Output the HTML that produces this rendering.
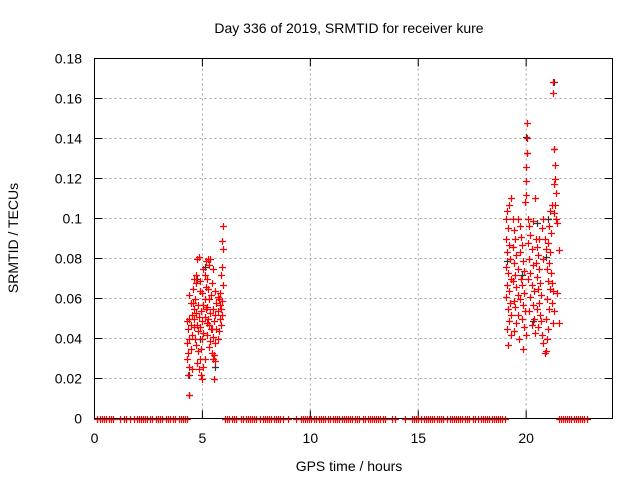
<!DOCTYPE html>
<html><head><meta charset="utf-8"><style>
body{margin:0;background:#fff;}
svg{display:block;font-family:"Liberation Sans",sans-serif;}
</style></head><body>
<svg id="chart" width="640" height="480" viewBox="0 0 640 480">
<rect width="640" height="480" fill="#fff"/>
<text x="349" y="33" font-size="14" text-anchor="middle" fill="#000">Day 336 of 2019, SRMTID for receiver kure</text>
<text x="349" y="471" font-size="14" text-anchor="middle" fill="#000">GPS time / hours</text>
<text x="18" y="238" font-size="14" text-anchor="middle" fill="#000" transform="rotate(-90 18 238)">SRMTID / TECUs</text>
<g id="grid"></g><g id="ticks"></g><g id="marks"></g>
<rect x="94.5" y="58.5" width="518" height="360" fill="none" stroke="#000" stroke-width="1"/>
</svg>
<script>
const xTicks=[0,5,10,15,20];
const yTicks=[0,0.02,0.04,0.06,0.08,0.1,0.12,0.14,0.16,0.18];
const yTickLabels=["0","0.02","0.04","0.06","0.08","0.1","0.12","0.14","0.16","0.18"];
const zeroHours=[0.1,0.25,0.35,0.45,0.55,0.65,0.75,0.85,1.2,1.35,1.45,1.65,1.85,1.95,2.05,2.15,2.25,2.35,2.45,2.55,2.65,2.85,2.95,3.05,3.15,3.3,3.4,3.5,3.65,3.75,3.9,4.0,4.1,4.2,4.3,
6.05,6.15,6.25,6.35,6.45,6.55,6.8,6.9,7.0,7.1,7.2,7.3,7.4,7.5,7.65,7.8,7.9,8.0,8.1,8.2,8.3,8.4,8.5,8.6,8.75,8.95,
9.35,9.55,9.65,9.75,9.85,9.95,10.05,10.15,10.25,10.4,10.5,10.6,10.7,10.8,10.9,11.05,11.15,11.25,11.35,11.45,11.55,11.65,11.75,11.85,11.95,12.05,12.15,12.25,12.45,12.55,12.65,12.75,12.85,12.95,13.05,13.15,13.25,13.35,13.45,13.8,13.9,14.4,
14.7,14.8,14.9,15.0,15.15,15.25,15.35,15.45,15.55,15.65,15.75,15.85,15.95,16.05,16.15,16.35,16.45,16.55,16.65,16.75,16.85,16.95,17.05,17.15,17.25,17.35,17.55,17.65,17.75,17.9,18.0,18.1,18.2,18.3,18.4,18.5,18.6,18.7,18.8,18.9,19.0,
21.5,21.6,21.7,21.8,21.9,22.0,22.1,22.2,22.3,22.4,22.5,22.6,22.7,22.8];
const redPts=[[4.4,.012],[4.35,.022],[4.4,.026],[4.5,.025],[4.3,.03],[4.35,.033],[4.45,.035],[4.3,.038],[4.4,.04],[4.5,.042],[4.35,.045],[4.45,.047],[4.3,.049],[4.4,.05],[4.5,.052],[4.6,.055],[4.45,.058],[4.4,.062],[4.55,.065],[4.6,.07],[4.7,.072],[4.75,.08],[4.85,.081],[4.7,.068],[4.65,.06],[4.8,.057],[4.7,.053],[4.6,.05],[4.75,.047],[4.8,.044],[4.65,.04],[4.7,.037],[4.8,.034],[4.9,.03],[4.85,.025],[4.95,.022],[4.75,.028],[5.0,.02],[5.05,.026],[5.1,.03],[4.95,.035],[5.0,.04],[5.05,.043],[4.9,.046],[5.0,.049],[5.1,.051],[4.95,.054],[5.05,.057],[5.1,.06],[5.0,.063],[5.15,.066],[4.9,.069],[5.1,.072],[5.05,.075],[5.15,.079],[5.25,.08],[5.3,.077],[5.2,.07],[5.25,.065],[5.3,.06],[5.2,.056],[5.35,.053],[5.25,.05],[5.3,.047],[5.4,.045],[5.2,.042],[5.35,.039],[5.3,.036],[5.45,.033],[5.5,.03],[5.55,.032],[5.6,.038],[5.5,.041],[5.45,.045],[5.55,.049],[5.6,.052],[5.5,.055],[5.65,.058],[5.7,.061],[5.6,.064],[5.75,.06],[5.8,.057],[5.7,.054],[5.8,.05],[5.85,.047],[5.75,.044],[5.9,.052],[5.85,.055],[5.9,.059],[5.8,.063],[5.95,.067],[5.85,.072],[5.9,.076],[5.95,.085],[5.9,.089],[5.95,.096],[5.55,.02],[5.6,.029],[5.4,.062],[5.45,.068],[5.5,.075],[5.35,.08],[5.15,.055],[5.2,.048],[4.55,.058],[4.6,.046],[4.85,.051],[4.9,.064],[5.65,.045],[5.7,.04],
[20.05,.148],[20.05,.14],[20.05,.133],[20.0,.126],[21.25,.168],[21.25,.163],[21.3,.135],[21.35,.127],[21.35,.12],[21.3,.117],[21.4,.113],[21.35,.107],[21.3,.103],[21.4,.1],[21.45,.098],[21.5,.084],[21.45,.063],[21.5,.048],[20.0,.119],[20.0,.112],[19.95,.108],[19.05,.1],[19.1,.104],[19.2,.107],[19.15,.095],[19.05,.09],[19.2,.087],[19.1,.083],[19.25,.08],[19.05,.076],[19.15,.073],[19.3,.07],[19.1,.067],[19.2,.064],[19.05,.061],[19.25,.058],[19.15,.055],[19.3,.052],[19.2,.049],[19.1,.045],[19.3,.042],[19.15,.037],[19.4,.1],[19.45,.094],[19.5,.09],[19.4,.086],[19.55,.082],[19.45,.078],[19.6,.075],[19.5,.072],[19.4,.069],[19.55,.066],[19.6,.062],[19.45,.059],[19.5,.056],[19.6,.052],[19.55,.048],[19.45,.044],[19.65,.04],[19.7,.096],[19.75,.091],[19.8,.087],[19.7,.083],[19.85,.079],[19.9,.074],[19.75,.07],[19.8,.067],[19.9,.063],[19.7,.06],[19.85,.057],[19.95,.054],[19.8,.05],[19.9,.046],[19.85,.035],[20.0,.042],[20.1,.1],[20.15,.096],[20.2,.092],[20.1,.088],[20.25,.085],[20.15,.08],[20.3,.077],[20.2,.073],[20.1,.07],[20.25,.067],[20.35,.064],[20.2,.061],[20.3,.057],[20.15,.054],[20.35,.05],[20.25,.047],[20.4,.043],[20.45,.09],[20.5,.086],[20.55,.082],[20.45,.078],[20.6,.075],[20.5,.071],[20.65,.068],[20.55,.065],[20.7,.062],[20.6,.058],[20.5,.055],[20.65,.052],[20.7,.049],[20.55,.046],[20.75,.042],[20.8,.038],[20.9,.034],[20.85,.033],[20.95,.04],[21.0,.045],[20.9,.05],[21.05,.055],[20.95,.06],[21.1,.065],[21.0,.069],[21.15,.073],[21.05,.078],[21.1,.083],[21.0,.088],[21.15,.093],[21.05,.096],[21.1,.104],[21.2,.107],[20.8,.1],[20.75,.095],[20.85,.09],[20.9,.085],[20.8,.08],[20.95,.075],[21.2,.068],[21.25,.064],[21.2,.058],[21.3,.054],[21.25,.048],[20.4,.11],[20.3,.099],[19.3,.11],[19.6,.1],[20.6,.09]];
const blackPts=[[4.4,.012],[4.4,.022],[5.1,.076],[4.75,.07],[5.6,.026],[4.9,.04],[21.3,.168],[21.3,.135],[20.05,.133],[20.0,.141],[19.1,.079],[20.9,.081],[20.5,.098],[19.8,.072],[21.0,.1],[20.3,.049]];
const X0=94.5,X1=612.5,Y0=418.5,Y1=58.5,XMAX=24,YMAX=0.18;
function sx(h){return X0+(X1-X0)*h/XMAX;}
function sy(v){return Y0-(Y0-Y1)*v/YMAX;}
const NS="http://www.w3.org/2000/svg";
function mk(tag,attrs,parent){const e=document.createElementNS(NS,tag);for(const k in attrs)e.setAttribute(k,attrs[k]);parent.appendChild(e);return e;}
const grid=document.getElementById('grid'),ticks=document.getElementById('ticks'),marks=document.getElementById('marks');
xTicks.forEach(t=>{const x=sx(t);
 if(t>0){const g=mk('line',{x1:x,x2:x,y1:Y1,y2:Y0,stroke:'#a0a0a0','stroke-dasharray':'2,3'},grid);
 
 }
 mk('line',{x1:x,x2:x,y1:Y0,y2:Y0-8,stroke:'#000'},ticks);
 mk('line',{x1:x,x2:x,y1:Y1,y2:Y1+8,stroke:'#000'},ticks);
 const l=mk('text',{x:x,y:443,'font-size':14,'text-anchor':'middle'},ticks);l.textContent=t;
 
 
});
yTicks.forEach((t,i)=>{const y=sy(t);
 if(t>0&&t<YMAX){const g=mk('line',{x1:X0,x2:X1,y1:y,y2:y,stroke:'#a0a0a0','stroke-dasharray':'2,3'},grid);
 
 }
 mk('line',{x1:X0,x2:X0+8,y1:y,y2:y,stroke:'#000'},ticks);
 mk('line',{x1:X1,x2:X1-8,y1:y,y2:y,stroke:'#000'},ticks);
 const l=mk('text',{x:82,y:y+5,'font-size':14,'text-anchor':'end'},ticks);l.textContent=yTickLabels[i];
 
 
});
function plus(h,v,col,name){const x=Math.round(sx(h))+0.5,y=Math.round(sy(v))+0.5;
 const p=mk('path',{d:`M${x-3.5} ${y}H${x+3.5}M${x} ${y-3.5}V${y+3.5}`,stroke:col,'stroke-width':1.2,fill:'none'},marks);
 
 }
blackPts.forEach(p=>plus(p[0],p[1],'#333','black-point'));
redPts.forEach(p=>plus(p[0],p[1],'#ff0000','red-point'));
zeroHours.forEach(h=>plus(h,0,'#ff0000','zero-point'));
</script>
</body></html>
